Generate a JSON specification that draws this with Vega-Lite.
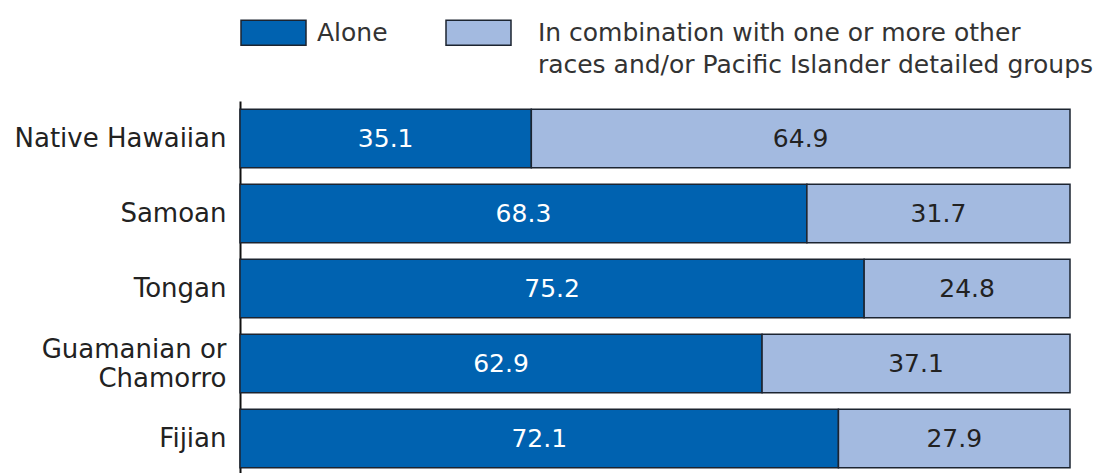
{
  "$schema": "https://vega.github.io/schema/vega-lite/v6.json",
  "width": 830,
  "height": 375,
  "autosize": "none",
  "padding": {"left": 240, "top": 101, "right": 34, "bottom": 0},
  "background": "white",
  "data": {
    "values": [
      {"group": "Native Hawaiian", "type": "Alone", "k": 1, "value": 35.1},
      {"group": "Native Hawaiian", "type": "In combination", "k": 2, "value": 64.9},
      {"group": "Samoan", "type": "Alone", "k": 1, "value": 68.3},
      {"group": "Samoan", "type": "In combination", "k": 2, "value": 31.7},
      {"group": "Tongan", "type": "Alone", "k": 1, "value": 75.2},
      {"group": "Tongan", "type": "In combination", "k": 2, "value": 24.8},
      {"group": "Guamanian or Chamorro", "type": "Alone", "k": 1, "value": 62.9},
      {"group": "Guamanian or Chamorro", "type": "In combination", "k": 2, "value": 37.1},
      {"group": "Fijian", "type": "Alone", "k": 1, "value": 72.1},
      {"group": "Fijian", "type": "In combination", "k": 2, "value": 27.9}
    ]
  },
  "transform": [
    {"stack": "value", "groupby": ["group"], "sort": [{"field": "k"}], "as": ["v0", "v1"]},
    {"calculate": "(datum.v0 + datum.v1) / 2", "as": "mid"}
  ],
  "encoding": {
    "y": {
      "field": "group",
      "type": "nominal",
      "sort": null,
      "scale": {"paddingInner": 0.22, "paddingOuter": 0.11},
      "axis": {
        "title": null,
        "ticks": false,
        "grid": false,
        "domainColor": "#111",
        "domainWidth": 2,
        "labelFont": "DejaVu Sans",
        "labelFontSize": 26,
        "labelColor": "#222",
        "labelPadding": 14,
        "labelLineHeight": 29,
        "labelLimit": 0,
        "labelOffset": {"condition": {"test": "datum.value == 'Guamanian or Chamorro'", "value": -14}, "value": 0},
        "labelExpr": "datum.label == 'Guamanian or Chamorro' ? ['Guamanian or', 'Chamorro'] : datum.label"
      }
    }
  },
  "layer": [
    {
      "mark": {"type": "bar", "stroke": "#1c2430", "strokeWidth": 1.5},
      "encoding": {
        "x": {"field": "v0", "type": "quantitative", "scale": {"domain": [0, 100], "nice": false}, "axis": null},
        "x2": {"field": "v1"},
        "color": {
          "field": "type",
          "type": "nominal",
          "scale": {"domain": ["Alone", "In combination"], "range": ["#0062B0", "#A3BAE0"]},
          "legend": {
            "title": null,
            "orient": "none",
            "legendX": 0,
            "legendY": -102,
            "direction": "horizontal",
            "columns": 2,
            "columnPadding": 55,
            "symbolType": "M-1,-0.385H1V0.385H-1Z",
            "symbolSize": 4225,
            "symbolStrokeWidth": 1.5,
            "symbolStrokeColor": "#1c2430",
            "labelOffset": 10,
            "labelFont": "DejaVu Sans",
            "labelFontSize": 25,
            "labelColor": "#333",
            "labelLimit": 0,
            "labelBaseline": "middle",
            "labelExpr": "datum.label == 'Alone' ? ['Alone', ''] : ['\u200b\u00a0\u00a0In combination with one or more other', '\u200b\u00a0\u00a0races and/or Pacific Islander detailed groups']"
          }
        }
      }
    },
    {
      "mark": {"type": "text", "font": "DejaVu Sans", "fontSize": 25},
      "encoding": {
        "x": {"field": "mid", "type": "quantitative"},
        "text": {"field": "value", "type": "quantitative", "format": ".1f"},
        "color": {"condition": {"test": "datum.type === 'Alone'", "value": "white"}, "value": "#222"}
      }
    }
  ],
  "config": {
    "view": {"stroke": null},
    "style": {"guide-label": {"lineHeight": 32}}
  }
}
